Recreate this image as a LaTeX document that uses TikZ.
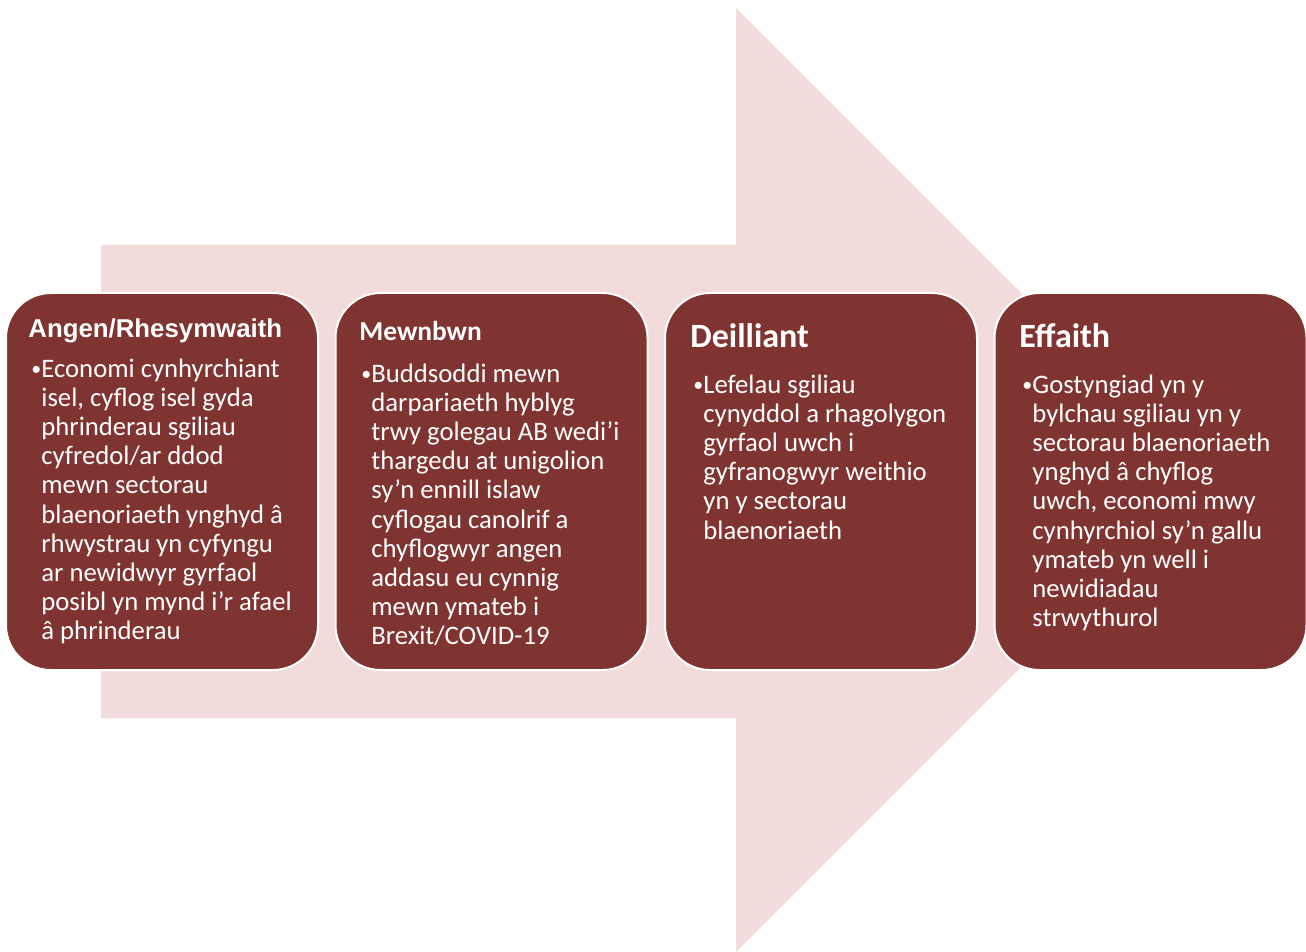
\documentclass[tikz,border=0pt]{standalone}
\usepackage{fontspec}
\setmainfont{Carlito}
\newfontfamily\arialfont{Liberation Sans}
\usetikzlibrary{positioning}
\definecolor{stagered}{RGB}{127,52,50}
\definecolor{arrowpink}{RGB}{242,220,219}
\newcommand{\blt}{\llap{\makebox[5pt][l]{\raisebox{0.6pt}{\fontsize{10}{10}\selectfont •}}}}

\begin{document}
\begin{tikzpicture}[x=0.5pt,y=-0.5pt,
	stage/.style={draw=white, line width=1pt, fill=stagered, rounded corners=22.5pt, minimum width=156pt, minimum height=188.5pt, inner sep=0pt},
	ttl/.style={anchor=base west, inner sep=0pt, text=white},
	bodytxt/.style={anchor=base west, inner sep=0pt, text=white, text width=150pt, align=flush left, font=\fontsize{13.35}{14.6}\selectfont}]
				\useasboundingbox (0,0) rectangle (1306,952);
				\fill[arrowpink] (101,245) -- (736,245) -- (736,8) -- (1208,480) -- (736,952) -- (736,718) -- (101,718) -- cycle;
				\node[stage] (angen) at (162,481.5) {};
				\node[stage] (mewnbwn) at (491.5,481.5) {};
				\node[stage] (deilliant) at (821,481.5) {};
				\node[stage] (effaith) at (1150.5,481.5) {};
				\node[ttl, font=\arialfont\bfseries\fontsize{12.9}{14}\selectfont] (angenttl) at (28,337) {Angen/Rhesymwaith};
				\node[ttl, font=\bfseries\fontsize{13.7}{15}\selectfont] (mewnbwnttl) at (359,340) {Mewnbwn};
				\node[ttl, font=\bfseries\fontsize{17}{19}\selectfont] (deilliantttl) at (690,347) {Deilliant};
				\node[ttl, font=\bfseries\fontsize{17}{19}\selectfont] (effaithttl) at (1019,347) {Effaith};
				\node[bodytxt] (angentxt) at (41,377) {\blt Economi cynhyrchiant\\isel, cyflog isel gyda\\phrinderau sgiliau\\cyfredol/ar ddod\\mewn sectorau\\blaenoriaeth ynghyd â\\rhwystrau yn cyfyngu\\ar newidwyr gyrfaol\\posibl yn mynd i’r afael\\â phrinderau};
				\node[bodytxt] (mewnbwntxt) at (371,382) {\blt Buddsoddi mewn\\darpariaeth hyblyg\\trwy golegau AB wedi’i\\thargedu at unigolion\\sy’n ennill islaw\\cyflogau canolrif a\\chyflogwyr angen\\addasu eu cynnig\\mewn ymateb i\\Brexit/COVID-19};
				\node[bodytxt] (deilliantxt) at (703,393) {\blt Lefelau sgiliau\\cynyddol a rhagolygon\\gyrfaol uwch i\\gyfranogwyr weithio\\yn y sectorau\\blaenoriaeth};
				\node[bodytxt] (effaithtxt) at (1032,393) {\blt Gostyngiad yn y\\bylchau sgiliau yn y\\sectorau blaenoriaeth\\ynghyd â chyflog\\uwch, economi mwy\\cynhyrchiol sy’n gallu\\ymateb yn well i\\newidiadau\\strwythurol};
			\end{tikzpicture}
\end{document}
